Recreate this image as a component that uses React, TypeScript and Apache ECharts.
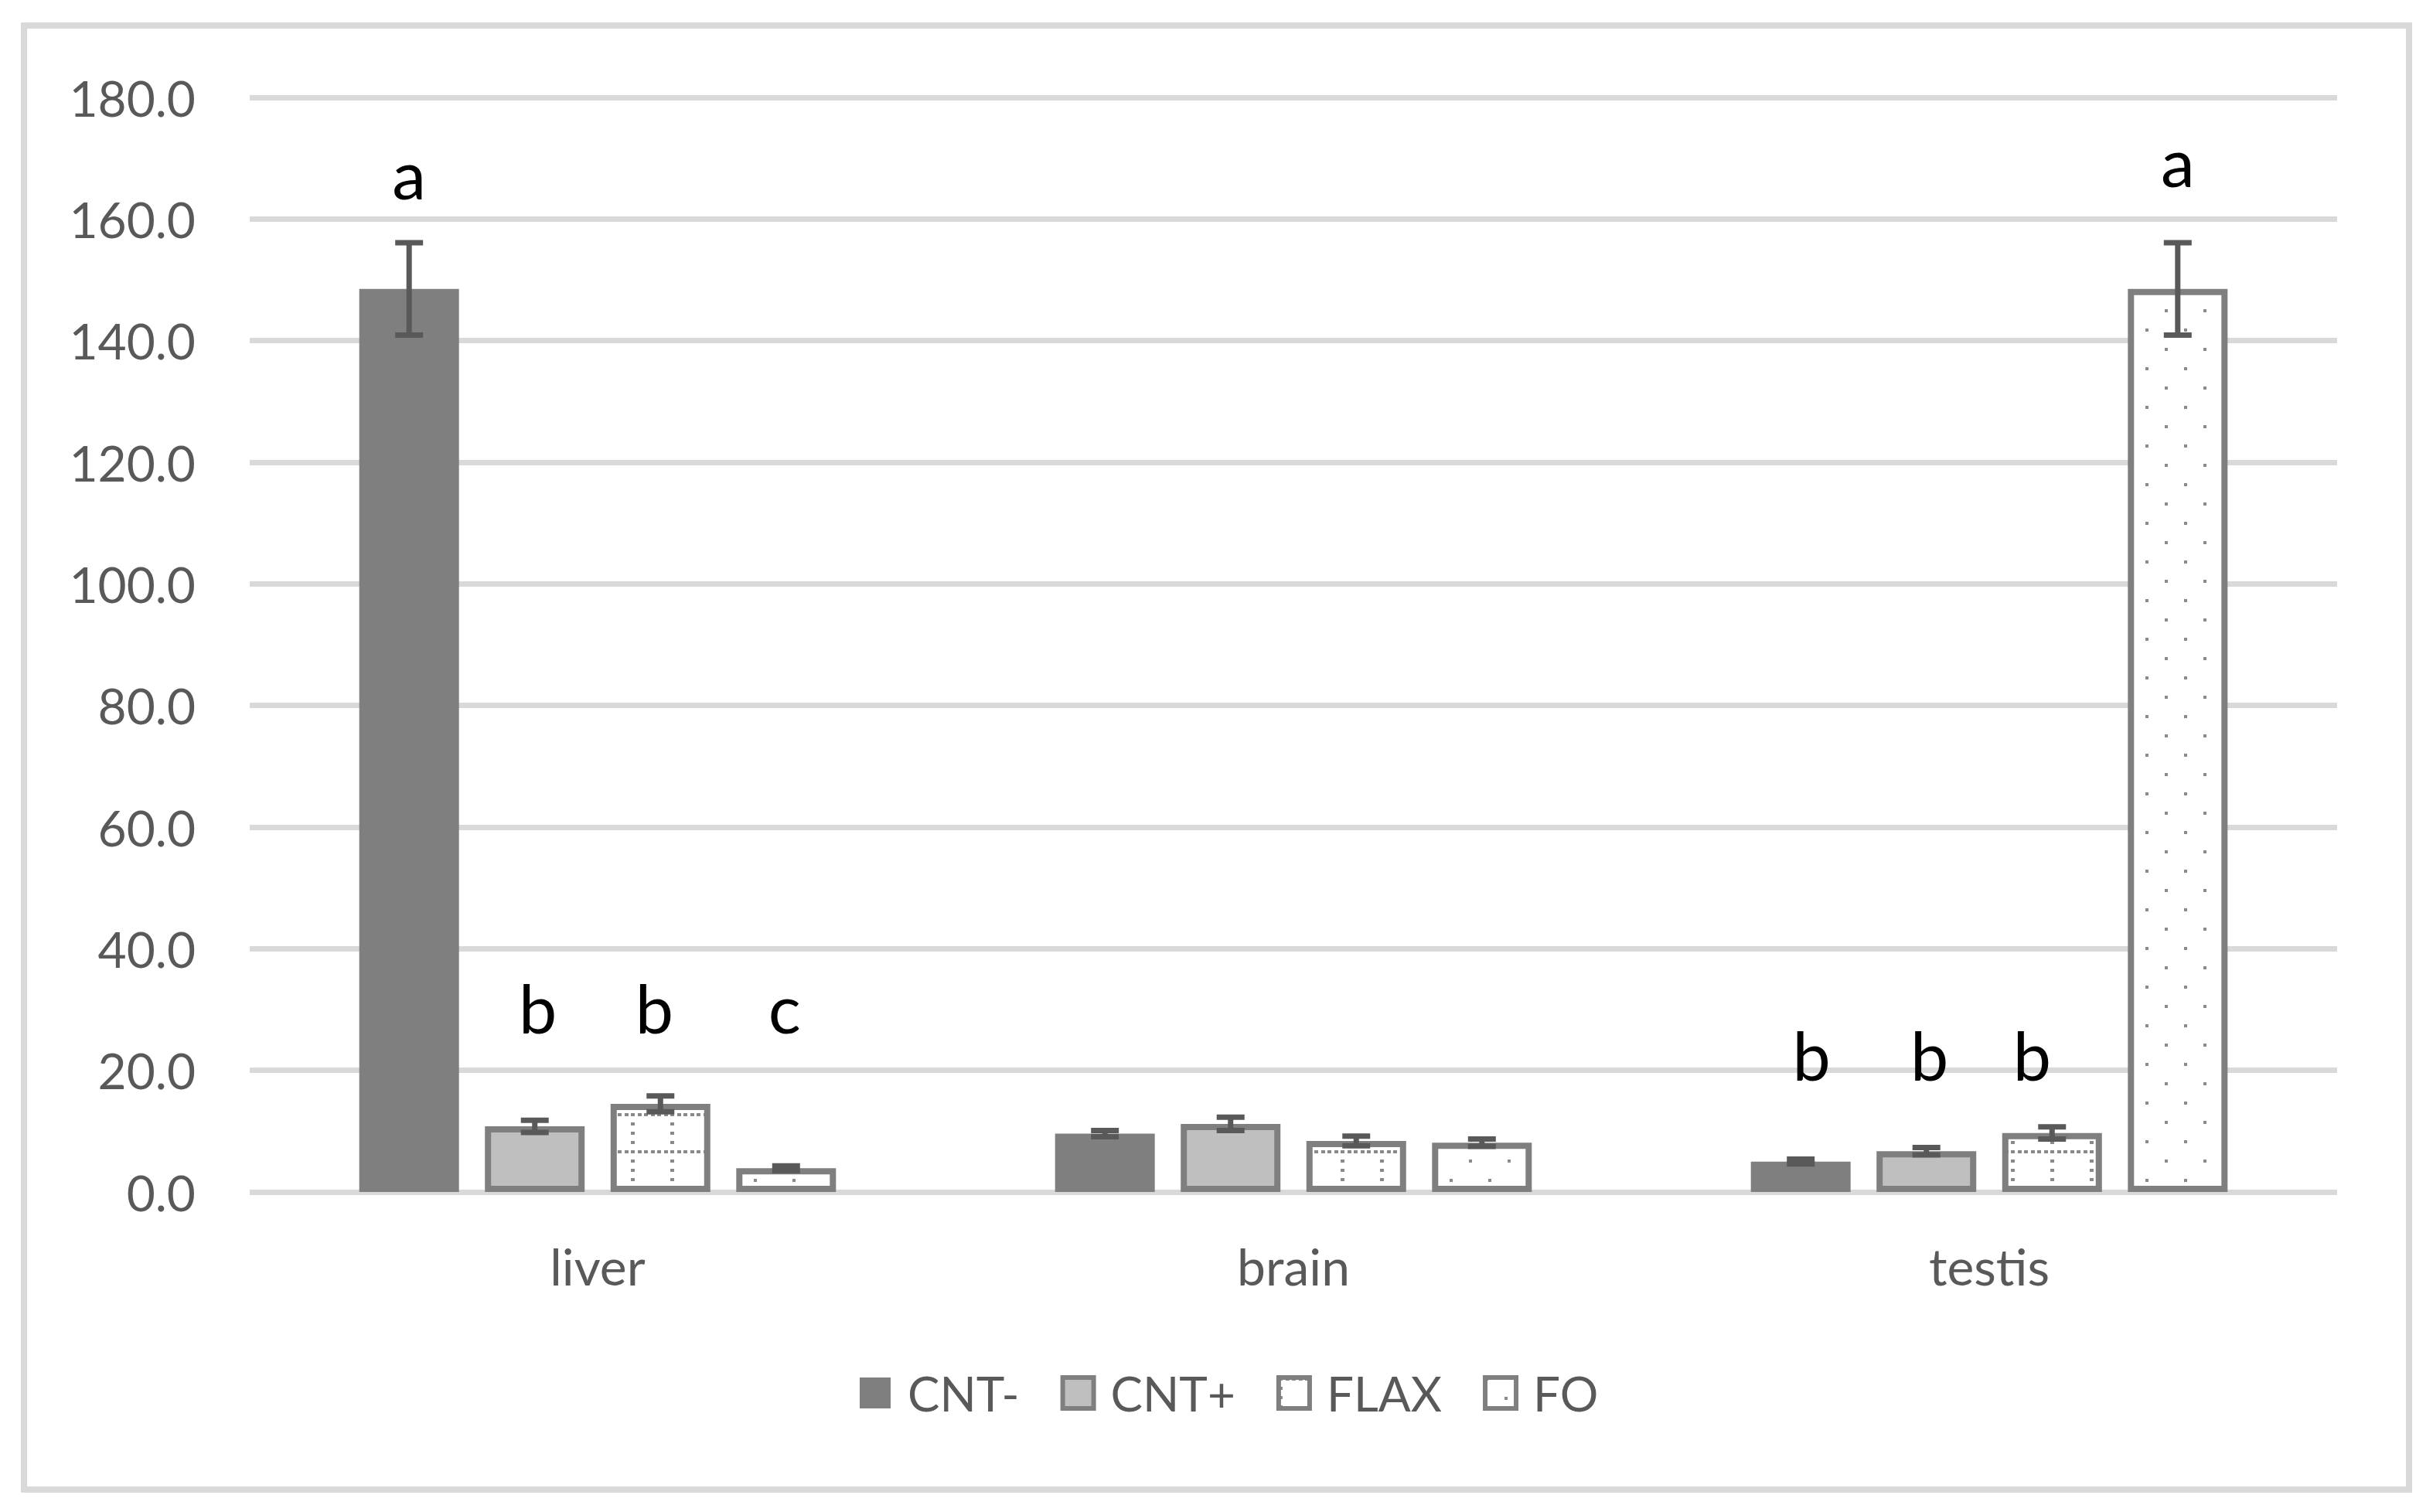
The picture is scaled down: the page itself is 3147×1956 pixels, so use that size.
import React, { useEffect, useRef } from 'react';
import * as echarts from 'echarts';

// ---------- data ----------
const categories = ['liver', 'brain', 'testis'];
const seriesNames = ['CNT-', 'CNT+', 'FLAX', 'FO'];

const cntMinus = [148.5, 9.6, 5.0];
const cntMinusErr = [7.6, 0.5, 0.4];
const cntPlus = [10.8, 11.2, 6.7];
const cntPlusErr = [1.0, 1.1, 0.6];
const flax = [14.5, 8.4, 9.7];
const flaxErr = [1.3, 0.8, 1.0];
const fo = [3.9, 8.1, 148.5];
const foErr = [0.4, 0.6, 7.6];

const yMin = 0;
const yMax = 180;
const yInterval = 20;

// significance letters
const letterCategory = [0, 0, 0, 0, 2, 2, 2, 2];
const letterSeries = [0, 1, 2, 3, 0, 1, 2, 3];
const letterY = [167.5, 30.4, 30.4, 30.4, 22.6, 22.6, 22.6, 169.6];
const letterText = ['a', 'b', 'b', 'c', 'b', 'b', 'b', 'a'];

// ---------- styles ----------
const FONT = 'Lato, "Open Sans", "DejaVu Sans", sans-serif';
const BAR_WIDTH = 129;
const BAR_GAP_RATIO = 0.26;
const STEP = BAR_WIDTH * (1 + BAR_GAP_RATIO);
const CAP = 36;
// small horizontal nudges of the hand-placed letters (px)
const letterDx = [0, 4, -8, -2, 14, 4, -26, 0];

function makeFlaxPattern() {
  const w = 51, h = 48;
  const c = document.createElement('canvas');
  c.width = w; c.height = h;
  const g = c.getContext('2d')!;
  g.fillStyle = '#ffffff';
  g.fillRect(0, 0, w, h);
  g.fillStyle = '#8a8a8a';
  for (let i = 0; i < 6; i++) g.fillRect(Math.round(i * 8.5), 0, 5, 4);
  for (let i = 1; i < 4; i++) g.fillRect(0, i * 12, 5, 4);
  return { image: c, repeat: 'repeat', imageWidth: w, imageHeight: h };
}

function makeFoPattern() {
  const w = 50, h = 50;
  const c = document.createElement('canvas');
  c.width = w; c.height = h;
  const g = c.getContext('2d')!;
  g.fillStyle = '#ffffff';
  g.fillRect(0, 0, w, h);
  g.fillStyle = '#8a8a8a';
  g.fillRect(0, 0, 4, 4);
  g.fillRect(25, 25, 4, 4);
  return { image: c, repeat: 'repeat', imageWidth: w, imageHeight: h };
}

export default function App() {
  const ref = useRef<HTMLDivElement>(null);

  useEffect(() => {
    if (!ref.current) return;
    const chart = echarts.init(ref.current, null, { renderer: 'svg' });

    const means = [cntMinus, cntPlus, flax, fo];
    const errs = [cntMinusErr, cntPlusErr, flaxErr, foErr];
    const errData: number[][] = [];
    means.forEach((arr, s) => arr.forEach((m, c) => errData.push([c, m, errs[s][c], s])));
    const letterData = letterText.map((_, i) => [letterCategory[i], letterY[i], letterSeries[i]]);

    const flaxPattern = makeFlaxPattern();
    const foPattern = makeFoPattern();

    const itemStyles: any[] = [
      { color: '#7f7f7f' },
      { color: '#bfbfbf', borderColor: '#7f7f7f', borderWidth: 8 },
      { color: flaxPattern, borderColor: '#7f7f7f', borderWidth: 8 },
      { color: foPattern, borderColor: '#7f7f7f', borderWidth: 8 },
    ];

    const barSeries = seriesNames.map((name, s) => ({
      name,
      type: 'bar',
      data: means[s],
      barWidth: BAR_WIDTH,
      barGap: `${BAR_GAP_RATIO * 100}%`,
      itemStyle: itemStyles[s],
      emphasis: { disabled: true },
      z: 2,
    }));

    chart.setOption({
      animation: false,
      backgroundColor: '#ffffff',
      grid: { left: 323, right: 124, top: 126, bottom: 414, containLabel: false },
      legend: {
        data: seriesNames.map((n, s) => ({
          name: n,
          itemStyle: s === 0 ? {} : { borderWidth: 6 },
        })),
        icon: 'rect',
        left: 1112,
        top: 1771,
        padding: 0,
        itemWidth: 40,
        itemHeight: 40,
        itemGap: 53,
        textStyle: { color: '#595959', fontSize: 62, fontFamily: FONT, padding: [0, 0, 0, 17] },
        selectedMode: false,
      },
      xAxis: {
        type: 'category',
        data: categories,
        axisLine: { show: false },
        axisTick: { show: false },
        axisLabel: { color: '#595959', fontSize: 66, fontFamily: FONT, margin: 62 },
        splitLine: { show: false },
      },
      yAxis: {
        type: 'value',
        min: yMin,
        max: yMax,
        interval: yInterval,
        axisLine: { show: false },
        axisTick: { show: false },
        axisLabel: {
          color: '#595959',
          fontSize: 64,
          fontFamily: FONT,
          margin: 70,
          formatter: (v: number) => v.toFixed(1),
        },
        splitLine: { lineStyle: { color: '#d9d9d9', width: 7 } },
      },
      graphic: [
        {
          type: 'rect',
          shape: { x: 31, y: 33, width: 3085, height: 1894 },
          style: { fill: 'none', stroke: '#d9d9d9', lineWidth: 8 },
          silent: true,
          z: -1,
        },
      ],
      series: [
        ...barSeries,
        {
          type: 'custom',
          name: 'errors',
          data: errData,
          encode: { x: 0, y: 1 },
          z: 5,
          silent: true,
          renderItem: (_p: any, api: any) => {
            const c = api.value(0), m = api.value(1), e = api.value(2), s = api.value(3);
            const p = api.coord([c, m]);
            const pt = api.coord([c, m + e]);
            const pb = api.coord([c, m - e]);
            const x = p[0] + (s - 1.5) * STEP;
            const style = { stroke: '#595959', lineWidth: 7 };
            return {
              type: 'group',
              children: [
                { type: 'line', shape: { x1: x, y1: pt[1], x2: x, y2: pb[1] }, style },
                { type: 'line', shape: { x1: x - CAP / 2, y1: pt[1], x2: x + CAP / 2, y2: pt[1] }, style },
                { type: 'line', shape: { x1: x - CAP / 2, y1: pb[1], x2: x + CAP / 2, y2: pb[1] }, style },
              ],
            };
          },
        },
        {
          type: 'custom',
          name: 'letters',
          data: letterData,
          encode: { x: 0, y: 1 },
          z: 6,
          silent: true,
          renderItem: (params: any, api: any) => {
            const c = api.value(0), y = api.value(1), s = api.value(2);
            const p = api.coord([c, y]);
            return {
              type: 'text',
              x: p[0] + (s - 1.5) * STEP + letterDx[params.dataIndex],
              y: p[1],
              style: {
                text: letterText[params.dataIndex],
                fontSize: 88,
                fontFamily: FONT,
                fill: '#000000',
                align: 'center',
                verticalAlign: 'middle',
              },
            };
          },
        },
      ],
    } as any);

    return () => chart.dispose();
  }, []);

  return (
    <div
      ref={ref}
      style={{ position: 'absolute', left: 0, top: 0, width: 3147, height: 1956, background: '#fff' }}
    />
  );
}
